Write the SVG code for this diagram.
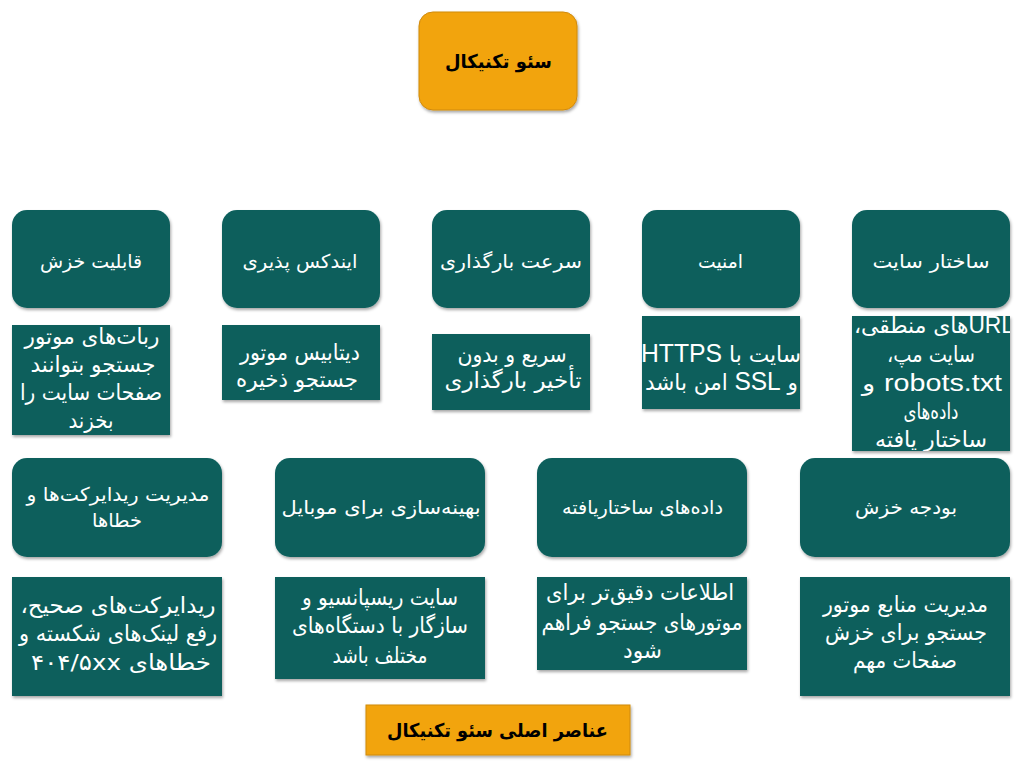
<svg xmlns="http://www.w3.org/2000/svg" width="1024" height="770" viewBox="0 0 1024 770">
<defs>
<filter id="sh" x="-10%" y="-10%" width="120%" height="130%">
<feDropShadow dx="1" dy="2" stdDeviation="1.5" flood-color="#000" flood-opacity="0.35"/>
</filter>
<clipPath id="cSec"><rect x="642" y="316" width="158" height="93"/></clipPath>
<clipPath id="cStr"><rect x="852" y="316" width="158" height="135"/></clipPath>
<style>
.node{fill:#0b5f5c;filter:url(#sh)}
.desc{fill:#0b5f5c;filter:url(#sh)}
.orange{fill:#f2a40f;stroke:#d08a0a;stroke-width:1;filter:url(#sh)}
text{font-family:'DejaVu Sans','Liberation Sans',sans-serif;text-anchor:middle;direction:rtl}
.l text{fill:#fff;font-size:19px}
.d text{fill:#fff;font-size:22px}
.lat{font-family:'Liberation Sans',sans-serif;font-size:25px}
.lat2{font-family:'Liberation Sans',sans-serif;font-size:23px}
.t text{fill:#000;font-size:19px;font-weight:bold}
</style>
</defs>
<rect width="1024" height="770" fill="#fff"/>
<g id="connectors"/>

<g id="root">
<rect class="orange" x="419" y="12" width="158" height="98" rx="14"/>
<g class="t"><text x="498.5" y="68" textLength="107" lengthAdjust="spacingAndGlyphs">سئو تکنیکال</text></g>
</g>

<g id="crawlability">
<rect class="node" x="12" y="210" width="158" height="98" rx="15"/>
<g class="l"><text x="91" y="268" textLength="102" lengthAdjust="spacingAndGlyphs">قابلیت خزش</text></g>
<rect class="desc" x="12" y="325" width="158" height="110"/>
<g class="d">
<text x="92" y="344" textLength="135" lengthAdjust="spacingAndGlyphs">ربات‌های موتور</text>
<text x="93" y="372" textLength="125" lengthAdjust="spacingAndGlyphs">جستجو بتوانند</text>
<text x="91" y="400" textLength="142" lengthAdjust="spacingAndGlyphs">صفحات سایت را</text>
<text x="91" y="428" textLength="45" lengthAdjust="spacingAndGlyphs">بخزند</text>
</g>
</g>

<g id="indexability">
<rect class="node" x="222" y="210" width="158" height="98" rx="15"/>
<g class="l"><text x="300" y="268" textLength="115" lengthAdjust="spacingAndGlyphs">ایندکس پذیری</text></g>
<rect class="desc" x="222" y="325" width="158" height="75"/>
<g class="d">
<text x="300" y="360" textLength="120" lengthAdjust="spacingAndGlyphs">دیتابیس موتور</text>
<text x="297" y="387" textLength="122" lengthAdjust="spacingAndGlyphs">جستجو ذخیره</text>
</g>
</g>

<g id="speed">
<rect class="node" x="432" y="210" width="158" height="98" rx="15"/>
<g class="l"><text x="511" y="268" textLength="142" lengthAdjust="spacingAndGlyphs">سرعت بارگذاری</text></g>
<rect class="desc" x="432" y="334" width="158" height="76"/>
<g class="d">
<text x="512" y="362" textLength="109" lengthAdjust="spacingAndGlyphs">سریع و بدون</text>
<text x="513" y="388" textLength="137" lengthAdjust="spacingAndGlyphs">تأخیر بارگذاری</text>
</g>
</g>

<g id="security">
<rect class="node" x="642" y="210" width="158" height="98" rx="15"/>
<g class="l"><text x="720.5" y="268" textLength="45" lengthAdjust="spacingAndGlyphs">امنیت</text></g>
<rect class="desc" x="642" y="316" width="158" height="93"/>
<g class="d" clip-path="url(#cSec)">
<text x="721" y="362" textLength="160" lengthAdjust="spacingAndGlyphs">سایت با <tspan class="lat">HTTPS</tspan></text>
<text x="721.5" y="390" textLength="153" lengthAdjust="spacingAndGlyphs">و <tspan class="lat">SSL</tspan> امن باشد</text>
</g>
</g>

<g id="structure">
<rect class="node" x="852" y="210" width="158" height="98" rx="15"/>
<g class="l"><text x="931" y="268" textLength="117" lengthAdjust="spacingAndGlyphs">ساختار سایت</text></g>
<rect class="desc" x="852" y="316" width="158" height="135"/>
<g class="d" clip-path="url(#cStr)">
<text x="934" y="333" textLength="160" lengthAdjust="spacingAndGlyphs"><tspan class="lat2">URL</tspan>های منطقی،</text>
<text x="931" y="362" textLength="88" lengthAdjust="spacingAndGlyphs">سایت مپ،</text>
<text x="932" y="391" textLength="140" lengthAdjust="spacingAndGlyphs"><tspan class="lat2">robots.txt</tspan> و</text>
<text x="931" y="419" textLength="55" lengthAdjust="spacingAndGlyphs">داده‌های</text>
<text x="931" y="447" textLength="112" lengthAdjust="spacingAndGlyphs">ساختار یافته</text>
</g>
</g>

<g id="redirects">
<rect class="node" x="12" y="458" width="210" height="99" rx="15"/>
<g class="l">
<text x="118" y="501" textLength="183" lengthAdjust="spacingAndGlyphs">مدیریت ریدایرکت‌ها و</text>
<text x="117" y="527" textLength="50" lengthAdjust="spacingAndGlyphs">خطاها</text>
</g>
<rect class="desc" x="12" y="577" width="210" height="119"/>
<g class="d">
<text x="118" y="613" textLength="195" lengthAdjust="spacingAndGlyphs">ریدایرکت‌های صحیح،</text>
<text x="118" y="641" textLength="198" lengthAdjust="spacingAndGlyphs">رفع لینک‌های شکسته و</text>
<text x="121" y="670" textLength="180" lengthAdjust="spacingAndGlyphs">خطاهای ۴۰۴/۵xx</text>
</g>
</g>

<g id="mobile">
<rect class="node" x="275" y="458" width="210" height="99" rx="15"/>
<g class="l"><text x="381" y="514" textLength="199" lengthAdjust="spacingAndGlyphs">بهینه‌سازی برای موبایل</text></g>
<rect class="desc" x="275" y="577" width="210" height="102"/>
<g class="d">
<text x="380" y="605" textLength="156" lengthAdjust="spacingAndGlyphs">سایت ریسپانسیو و</text>
<text x="380" y="633" textLength="176" lengthAdjust="spacingAndGlyphs">سازگار با دستگاه‌های</text>
<text x="380" y="663" textLength="95" lengthAdjust="spacingAndGlyphs">مختلف باشد</text>
</g>
</g>

<g id="structured-data">
<rect class="node" x="537" y="458" width="210" height="99" rx="15"/>
<g class="l"><text x="642.5" y="514" textLength="161" lengthAdjust="spacingAndGlyphs">داده‌های ساختاریافته</text></g>
<rect class="desc" x="537" y="577" width="210" height="93"/>
<g class="d">
<text x="640" y="600" textLength="188" lengthAdjust="spacingAndGlyphs">اطلاعات دقیق‌تر برای</text>
<text x="642" y="630" textLength="201" lengthAdjust="spacingAndGlyphs">موتورهای جستجو فراهم</text>
<text x="642.5" y="658" textLength="39" lengthAdjust="spacingAndGlyphs">شود</text>
</g>
</g>

<g id="crawl-budget">
<rect class="node" x="800" y="458" width="210" height="99" rx="15"/>
<g class="l"><text x="906" y="514" textLength="102" lengthAdjust="spacingAndGlyphs">بودجه خزش</text></g>
<rect class="desc" x="800" y="577" width="210" height="119"/>
<g class="d">
<text x="905.5" y="612" textLength="165" lengthAdjust="spacingAndGlyphs">مدیریت منابع موتور</text>
<text x="906" y="640" textLength="162" lengthAdjust="spacingAndGlyphs">جستجو برای خزش</text>
<text x="905" y="668" textLength="104" lengthAdjust="spacingAndGlyphs">صفحات مهم</text>
</g>
</g>

<g id="caption">
<rect class="orange" x="366" y="705" width="264" height="50"/>
<g class="t"><text x="497.5" y="737" textLength="221" lengthAdjust="spacingAndGlyphs">عناصر اصلی سئو تکنیکال</text></g>
</g>
</svg>
